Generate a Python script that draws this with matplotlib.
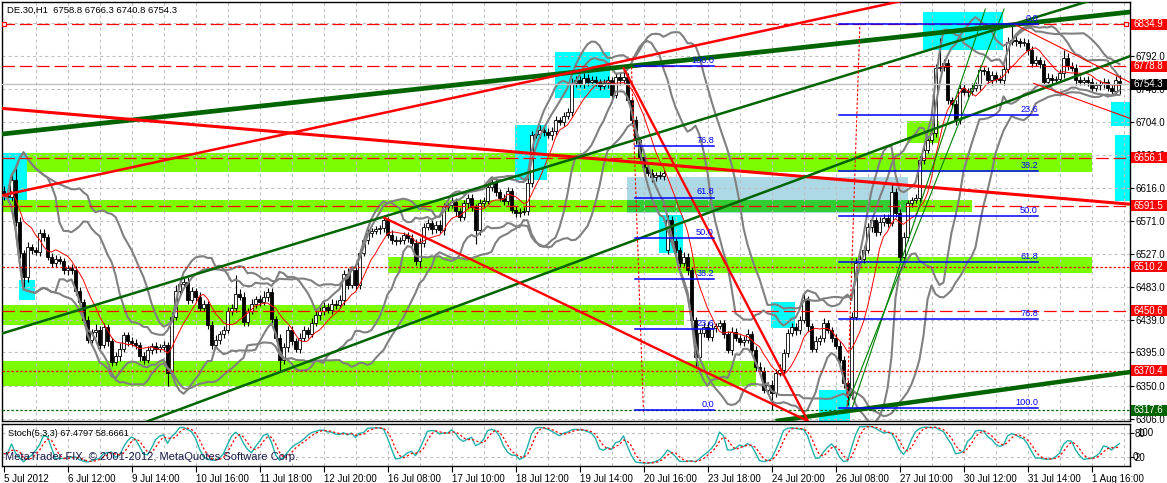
import numpy as np
import pandas as pd
import matplotlib
matplotlib.use("Agg")
import matplotlib.pyplot as plt
import matplotlib.transforms as mtrans
from matplotlib.patches import Rectangle

# ---- data (DE.30, H1) ----
closes = [
    6605, 6603, 6626, 6570, 6528, 6496, 6536, 6532, 6530, 6555, 6550, 6523, 6515, 6520, 6517, 6505, 6508, 6505, 6478, 6462,
    6438, 6412, 6422, 6425, 6405, 6429, 6410, 6382, 6390, 6400, 6418, 6410, 6408, 6405, 6390, 6385, 6398, 6404, 6400, 6402,
    6405, 6368, 6443, 6478, 6487, 6490, 6465, 6478, 6470, 6455, 6460, 6432, 6405, 6412, 6420, 6425, 6450, 6455, 6474, 6470,
    6436, 6450, 6460, 6466, 6462, 6470, 6476, 6440, 6414, 6385, 6402, 6425, 6410, 6400, 6415, 6425, 6420, 6435, 6445, 6450,
    6456, 6452, 6460, 6458, 6465, 6500, 6485, 6505, 6485, 6528, 6546, 6555, 6558, 6560, 6562, 6572, 6553, 6546, 6544, 6546,
    6552, 6548, 6542, 6518, 6542, 6563, 6568, 6560, 6566, 6559, 6590, 6592, 6597, 6584, 6576, 6595, 6602, 6590, 6559, 6595,
    6598, 6617, 6624, 6610, 6602, 6598, 6612, 6586, 6582, 6583, 6585, 6622, 6686, 6688, 6693, 6690, 6686, 6692, 6706, 6704,
    6712, 6718, 6756, 6760, 6755, 6763, 6757, 6760, 6758, 6752, 6756, 6760, 6740, 6764, 6760, 6764, 6733, 6707, 6680, 6657,
    6643, 6636, 6630, 6633, 6632, 6635, 6573, 6545, 6532, 6515, 6523, 6505, 6438, 6389, 6421, 6429, 6416, 6428, 6430, 6434,
    6420, 6398, 6423, 6415, 6409, 6412, 6420, 6398, 6376, 6370, 6345, 6352, 6340, 6368, 6372, 6394, 6421, 6429, 6425, 6438,
    6465, 6430, 6400, 6411, 6414, 6434, 6425, 6415, 6404, 6385, 6354, 6338, 6443, 6515, 6520, 6532, 6563, 6572, 6556, 6570,
    6575, 6568, 6610, 6582, 6523, 6550, 6595, 6599, 6602, 6653, 6666, 6680, 6689, 6776, 6778, 6783, 6733, 6728, 6706, 6750,
    6744, 6745, 6750, 6753, 6773, 6772, 6760, 6767, 6762, 6760, 6775, 6811, 6814, 6812, 6810, 6810, 6800, 6783, 6787, 6782,
    6758, 6763, 6760, 6762, 6769, 6790, 6779, 6776, 6760, 6758, 6760, 6758, 6750, 6753, 6755, 6757, 6750, 6746, 6760, 6754.3,
]
up_wick = [
    6, 5, 8, 20, 6, 5, 7, 4, 5, 6, 5, 4, 5, 6, 4, 5, 4, 5, 6, 5,
    4, 6, 5, 8, 5, 6, 4, 5, 6, 7, 5, 4, 6, 5, 4, 5, 6, 4, 5, 4,
    5, 4, 6, 8, 7, 5, 6, 5, 4, 6, 5, 4, 5, 6, 4, 5, 6, 5, 25, 6,
    6, 5, 7, 5, 6, 8, 6, 5, 4, 6, 5, 6, 5, 4, 6, 5, 4, 6, 5, 7,
    6, 5, 6, 5, 7, 6, 8, 6, 5, 6, 5, 6, 4, 5, 4, 6, 5, 6, 5, 4,
    5, 4, 6, 5, 6, 5, 6, 4, 5, 6, 5, 4, 6, 5, 4, 5, 6, 5, 4, 6,
    5, 6, 7, 5, 4, 6, 5, 4, 5, 6, 5, 8, 6, 5, 7, 5, 6, 5, 6, 5,
    6, 5, 7, 6, 5, 6, 5, 6, 5, 4, 6, 5, 4, 6, 5, 14, 5, 4, 5, 4,
    5, 4, 5, 4, 5, 4, 6, 5, 4, 5, 6, 5, 4, 5, 6, 5, 7, 6, 5, 4,
    5, 4, 6, 5, 4, 5, 6, 4, 5, 6, 5, 4, 6, 5, 7, 6, 5, 6, 5, 6,
    8, 6, 5, 6, 5, 7, 5, 4, 5, 6, 5, 4, 6, 7, 5, 6, 5, 6, 5, 6,
    5, 6, 12, 6, 5, 6, 5, 4, 6, 5, 6, 5, 7, 6, 39, 5, 6, 5, 6, 7,
    5, 4, 6, 5, 7, 5, 6, 5, 4, 5, 6, 7, 23, 5, 4, 6, 5, 6, 5, 4,
    5, 6, 5, 4, 6, 10, 6, 5, 6, 5, 4, 6, 5, 4, 5, 6, 5, 4, 6, 7.5,
]
down_wick = [
    5, 6, 5, 6, 7, 13, 6, 5, 4, 6, 5, 4, 6, 5, 4, 5, 6, 5, 6, 5,
    6, 5, 4, 6, 5, 4, 6, 5, 4, 6, 5, 6, 4, 5, 6, 5, 4, 5, 6, 5,
    5, 18, 6, 5, 4, 6, 5, 4, 6, 5, 4, 6, 5, 4, 6, 5, 4, 5, 6, 5,
    6, 5, 4, 6, 5, 4, 6, 5, 4, 16, 5, 6, 5, 4, 6, 5, 6, 4, 5, 6,
    5, 4, 6, 5, 4, 6, 5, 4, 6, 5, 4, 6, 5, 4, 6, 5, 4, 6, 5, 4,
    6, 5, 4, 6, 10, 5, 4, 6, 5, 4, 6, 5, 4, 6, 5, 4, 6, 5, 18, 6,
    5, 4, 6, 5, 4, 6, 5, 4, 6, 5, 4, 6, 5, 4, 6, 5, 4, 6, 5, 4,
    5, 4, 6, 5, 4, 6, 5, 4, 6, 5, 4, 6, 5, 4, 6, 5, 4, 6, 5, 4,
    5, 4, 6, 5, 4, 6, 5, 4, 6, 5, 4, 6, 5, 13, 6, 5, 4, 6, 5, 4,
    5, 4, 6, 5, 4, 6, 5, 4, 6, 5, 4, 6, 22, 5, 4, 6, 5, 4, 6, 5,
    4, 6, 5, 4, 6, 5, 4, 6, 5, 4, 6, 13, 5, 4, 6, 5, 4, 6, 5, 4,
    6, 5, 4, 6, 5, 13, 6, 5, 4, 6, 5, 4, 6, 5, 4, 6, 5, 4, 6, 5,
    4, 6, 5, 4, 6, 5, 4, 6, 5, 4, 6, 5, 4, 6, 5, 4, 6, 5, 4, 6,
    5, 4, 6, 5, 4, 6, 5, 4, 6, 5, 4, 6, 5, 4, 6, 5, 4, 6, 5, 13.5,
]
first_open = 6612.0
gap_opens = {166: 6532.0, 279: 6758.8}

x_labels = ["5 Jul 2012", "6 Jul 12:00", "9 Jul 14:00", "10 Jul 16:00", "11 Jul 18:00",
            "12 Jul 20:00", "16 Jul 08:00", "17 Jul 10:00", "18 Jul 12:00", "19 Jul 14:00",
            "20 Jul 16:00", "23 Jul 18:00", "24 Jul 20:00", "26 Jul 08:00", "27 Jul 10:00",
            "30 Jul 12:00", "31 Jul 14:00", "1 Aug 16:00"]
price_ticks = [6306.0, 6350.0, 6395.0, 6439.0, 6483.0, 6527.0, 6571.0, 6616.0, 6660.0, 6704.0, 6748.0, 6792.0]

# horizontal price lines: price, colour, dash kind
h_levels = [(6834.9, "red", "long"), (6778.8, "red", "long"), (6656.1, "red", "long"),
            (6591.5, "red", "long"), (6510.2, "red", "short"), (6450.6, "red", "long"),
            (6370.4, "red", "short"), (6317.6, "#006400", "short")]
bid_price = 6754.3

# rectangles: bar from, bar to, price low, price high
green_zones = [(-1, 272.1, 6637.0, 6662.4), (-1, 242.0, 6583.3, 6599.3), (96.1, 272.1, 6501.3, 6522.8),
               (-1, 170.0, 6431.7, 6458.5), (-1, 188.0, 6350.0, 6383.5), (225.9, 233.9, 6675.8, 6705.3)]
blue_zone = (155.9, 226.0, 6582.0, 6630.2)
cyan_boxes = [(-0.2, 5.9, 6600.0, 6662.0), (3.9, 7.9, 6465.2, 6492.0), (127.9, 135.9, 6626.1, 6700.0),
              (137.9, 151.7, 6736.0, 6797.8), (163.9, 169.9, 6528.0, 6579.0), (191.9, 197.9, 6428.0, 6463.0),
              (203.9, 211.7, 6300.0, 6344.5), (229.9, 249.9, 6800.5, 6851.4), (276.9, 282.0, 6698.5, 6730.7),
              (277.9, 282.0, 6598.0, 6686.5)]

# trend lines: (bar, price) -> (bar, price)
rays = [((0, 6688), (281, 6851), "#006400", 3.4),      # thick green
        ((0, 6722), (281, 6594), "red", 2.2),           # thick red falling
        ((0, 6606), (214, 6854), "red", 1.8),           # red rising
        ((0, 6421), (264, 6854), "#006400", 1.8),       # upper green channel
        ((139, 6508), (281, 6791), "#006400", 1.8)]     # lower green channel
segments = [((193.0, 6303), (282, 6369), "#006400", 3.2),
            ((95.0, 6576), (201.1, 6303), "red", 1.7),
            ((154.9, 6777.6), (201.1, 6303), "red", 1.7),
            ((252.1, 6836.6), (282, 6756), "red", 0.8),
            ((257.4, 6756), (282, 6708), "red", 0.8),
            ((210.9, 6324.6), (250.2, 6856), "#008000", 0.8),
            ((212.0, 6318.0), (245.5, 6856), "#008000", 0.8)]
fib_trend = [((157.0, 6777.6), (160.0, 6313.7)), ((210.9, 6321.9), (214.1, 6836.6))]

fib_levels = [0.0, 23.6, 38.2, 50.0, 61.8, 76.8, 100.0]
fib1 = dict(p0=6317.6, p100=6778.8, x0=157.8, x1=177.6)
fib2 = dict(p0=6834.9, p100=6320.0, x0=208.9, x1=258.6)

# ---- derived candles / indicators ----
closes = np.array(closes, dtype=float)
opens = np.concatenate([[first_open], closes[:-1]])
for k, v in gap_opens.items():
    opens[k] = v
highs = np.maximum(opens, closes) + np.array(up_wick)
lows = np.minimum(opens, closes) - np.array(down_wick)
n = len(closes)
idx = np.arange(n)

s = pd.Series(closes)
bands = []
for per in (12, 20):
    m = s.rolling(per, min_periods=1).mean()
    sd = s.rolling(per, min_periods=1).std(ddof=0)
    bands.append((m + 2 * sd, m - 2 * sd))
ma = s.rolling(8, min_periods=1).mean()

hh = pd.Series(highs).rolling(5, min_periods=1).max()
ll = pd.Series(lows).rolling(5, min_periods=1).min()
num = (s - ll).rolling(3, min_periods=1).sum()
den = (hh - ll).rolling(3, min_periods=1).sum()
k_line = 100 * num / den
d_line = k_line.rolling(3, min_periods=1).mean()

# ---- figure ----
plt.rcParams['font.family'] = ['Liberation Sans', 'DejaVu Sans']
plt.rcParams['lines.scale_dashes'] = False
W, H = 1167, 483
fig = plt.figure(figsize=(W / 100, H / 100), dpi=100)
fig.patch.set_facecolor("white")

def box(l, t, r, b):
    return [l / W, 1 - b / H, (r - l) / W, (b - t) / H]

ax = fig.add_axes(box(2, 2, 1129.5, 421))
ax2 = fig.add_axes(box(2, 424, 1129.5, 466))
xmin, xmax = -0.375, 281.5
ymin, ymax = 6303.1, 6864.8
ax.set_xlim(xmin, xmax)
ax.set_ylim(ymin, ymax)
ax2.set_xlim(xmin, xmax)
ax2.set_ylim(-3.8, 103.8)

for a in (ax, ax2):
    for sp in a.spines.values():
        sp.set_color("black")
        sp.set_linewidth(1.0)

grid_kw = dict(color="#C0C0C0", lw=0.8, dashes=(2.2, 2.2), zorder=2)
for g in range(8, n + 8, 8):
    ax.axvline(g, **grid_kw)
    ax2.axvline(g, **grid_kw)
for p in price_ticks + [6836.0]:
    ax.axhline(p, **grid_kw)
for lv in (20, 80):
    ax2.axhline(lv, **grid_kw)

# zones
for x0, x1, p0, p1 in green_zones:
    ax.add_patch(Rectangle((x0, p0), x1 - x0, p1 - p0, facecolor="#7CFC00", edgecolor="none", zorder=1))
bx0, bx1, bp0, bp1 = blue_zone
ax.add_patch(Rectangle((bx0, bp0), bx1 - bx0, bp1 - bp0, facecolor="#ADD8E6", edgecolor="none", zorder=1.1))
gb = green_zones[1]
ax.add_patch(Rectangle((bx0, gb[2]), bx1 - bx0, gb[3] - gb[2], facecolor="#32CD32", edgecolor="none", zorder=1.2))
for x0, x1, p0, p1 in cyan_boxes:
    ax.add_patch(Rectangle((x0, p0), x1 - x0, p1 - p0, facecolor="#00FFFF", edgecolor="none", zorder=1.3))

# horizontal lines
dash = {"long": (9, 3.5), "short": (1.8, 1.4)}
for p, c, kind in h_levels:
    ax.axhline(p, color=c, lw=0.9, dashes=dash[kind], zorder=5)
ax.axhline(bid_price, color="#C0C0C0", lw=1.0, zorder=5)
ax.plot([0.1, 280.6], [6834.9, 6834.9], ls="none", marker="s", ms=3.5, mfc="white", mec="red", mew=0.9, zorder=6)

# candles
bull = closes >= opens
ax.vlines(idx, lows, highs, color="black", lw=0.8, zorder=3)
body_lo = np.minimum(opens, closes)
body_h = np.maximum(np.abs(closes - opens), 0.6)
ax.bar(idx, body_h, bottom=body_lo, width=0.62, color=np.where(bull, "white", "black"),
       edgecolor="black", linewidth=0.6, zorder=3.1)

# indicators
for up, lo in bands:
    ax.plot(idx, up, color="#808080", lw=1.5, zorder=4)
    ax.plot(idx, lo, color="#808080", lw=1.5, zorder=4)
ax.plot(idx, ma, color="red", lw=0.7, zorder=4.2)

# trend lines
xs = np.array([xmin - 1, xmax + 1])
for (xa, pa), (xb, pb), c, w in rays:
    slope = (pb - pa) / (xb - xa)
    ax.plot(xs, pa + slope * (xs - xa), color=c, lw=w, zorder=5.5, solid_capstyle="butt")
for (xa, pa), (xb, pb), c, w in segments:
    ax.plot([xa, xb], [pa, pb], color=c, lw=w, zorder=5.5, solid_capstyle="butt")
for (xa, pa), (xb, pb) in fib_trend:
    ax.plot([xa, xb], [pa, pb], color="red", lw=0.8, dashes=(1.8, 1.4), zorder=5.5)

# fibonacci levels
for f in (fib1, fib2):
    for lv in fib_levels:
        p = f["p0"] + (f["p100"] - f["p0"]) * lv / 100.0
        ax.plot([f["x0"], f["x1"]], [p, p], color="#0000FF", lw=1.1, zorder=5.6)
        ax.text(f["x1"], p + 1.5, f"{lv:.1f}", color="#0000FF", fontsize=6.6,
                ha="right", va="bottom", zorder=5.7)

# stochastic
ax2.plot(idx, k_line, color="#20B2AA", lw=1.0, zorder=4)
ax2.plot(idx, d_line, color="red", lw=0.9, dashes=(1.6, 1.6), zorder=4)

# axes ticks
ax.set_xticks([])
ax.yaxis.tick_right()
ax.set_yticks(price_ticks)
ax.set_yticklabels([f"{v:.1f}" for v in price_ticks])
ax.tick_params(axis="y", length=3, pad=1, labelsize=7, colors="black", width=0.8)

ax2.yaxis.tick_right()
ax2.set_yticks([20, 80])
ax2.set_yticklabels(["20", "80"])
ax2.tick_params(axis="y", length=3, pad=1, labelsize=7, width=0.8)
trs = mtrans.blended_transform_factory(fig.transFigure, ax2.transData)
ax2.text(1137 / W, 80, "100", fontsize=7, va="center", ha="left", transform=trs, clip_on=False)
ax2.text(1133 / W, 20, "0", fontsize=7, va="center", ha="left", transform=trs, clip_on=False)
xt = list(range(0, 16 * len(x_labels), 16))
ax2.set_xticks(xt)
ax2.set_xticklabels(x_labels, ha="left")
ax2.tick_params(axis="x", length=4, pad=1.5, labelsize=7, width=0.8)

# coloured price labels on the axis
trm = mtrans.blended_transform_factory(fig.transFigure, ax.transData)
tag_h = 11 * (ymax - ymin) / 419.0
tags = [(6834.9, "red"), (6778.8, "red"), (6754.3, "black"), (6656.1, "red"), (6591.5, "red"),
        (6510.2, "red"), (6450.6, "red"), (6370.4, "red"), (6317.6, "#006400")]
for p, c in tags:
    ax.add_patch(Rectangle((1130.5 / W, p - tag_h / 2), (W - 1130.5) / W, tag_h, transform=trm,
                           facecolor=c, edgecolor="none", clip_on=False, zorder=20))
    ax.text(1133 / W, p, f"{p:.1f}", color="white", fontsize=7, va="center", ha="left",
            transform=trm, clip_on=False, zorder=21)

# texts
fig.text(7 / W, 1 - 10.5 / H, "DE.30,H1  6758.8 6766.3 6740.8 6754.3", fontsize=6.8, va="center", ha="left")
fig.text(8 / W, 1 - 433 / H, "Stoch(5,3,3) 67.4797 58.6661", fontsize=6.6, va="center", ha="left", zorder=10)
fig.text(5 / W, 1 - 457 / H, "MetaTrader FIX, \u00a9 2001-2012, MetaQuotes Software Corp.", fontsize=8,
         color="#1a1a4a", va="center", ha="left", zorder=10)

fig.savefig("out.png", dpi=100, facecolor="white")
